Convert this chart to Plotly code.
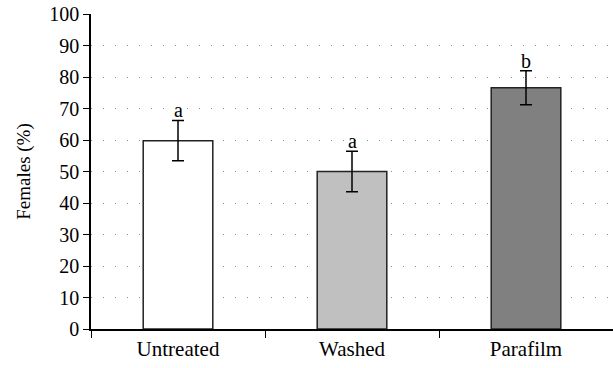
import plotly.graph_objects as go

# Treatment groups and percentage of females
categories = ["Untreated", "Washed", "Parafilm"]
females_pct = [59.8, 50.0, 76.6]
error_pct = [6.4, 6.4, 5.4]
group_letters = ["a", "a", "b"]
bar_colors = ["#ffffff", "#c0c0c0", "#808080"]
y_ticks = [0, 10, 20, 30, 40, 50, 60, 70, 80, 90, 100]

FONT = "Liberation Serif, Times New Roman, serif"

fig = go.Figure()
fig.add_trace(go.Bar(
    x=categories,
    y=females_pct,
    width=0.4,
    marker=dict(color=bar_colors, line=dict(color="#222222", width=1.5)),
    error_y=dict(type="data", array=error_pct, visible=True,
                 color="#000000", thickness=1.5, width=6),
    showlegend=False,
))

# Significance letters above each error bar
for cat, val, err, letter in zip(categories, females_pct, error_pct, group_letters):
    fig.add_annotation(
        x=cat, y=val + err, text=letter, showarrow=False,
        yanchor="bottom", yshift=-3,
        font=dict(family=FONT, size=20, color="#000000"),
    )

fig.update_layout(
    width=613, height=368,
    margin=dict(l=91, r=0, t=14, b=39),
    paper_bgcolor="#ffffff", plot_bgcolor="#ffffff",
    font=dict(family=FONT, size=20, color="#000000"),
    bargap=0.6,
)
fig.update_xaxes(
    type="category",
    range=[-0.5, 2.5],
    tickson="boundaries",
    ticks="outside", ticklen=7, tickwidth=1.2, tickcolor="#000000",
    showline=True, linecolor="#000000", linewidth=1.5,
    showgrid=False, zeroline=False,
    tickfont=dict(family=FONT, size=21),
)
fig.update_yaxes(
    range=[0, 100],
    tickvals=y_ticks,
    ticks="outside", ticklen=6, tickwidth=1.2, tickcolor="#000000",
    showline=True, linecolor="#000000", linewidth=1.5,
    showgrid=True, gridcolor="#8c8c8c", gridwidth=1.2, griddash="1px,11px",
    zeroline=False,
    tickfont=dict(family=FONT, size=20),
    title=dict(text="Females (%)", font=dict(family=FONT, size=19), standoff=14),
)

fig.write_html("out.html")
